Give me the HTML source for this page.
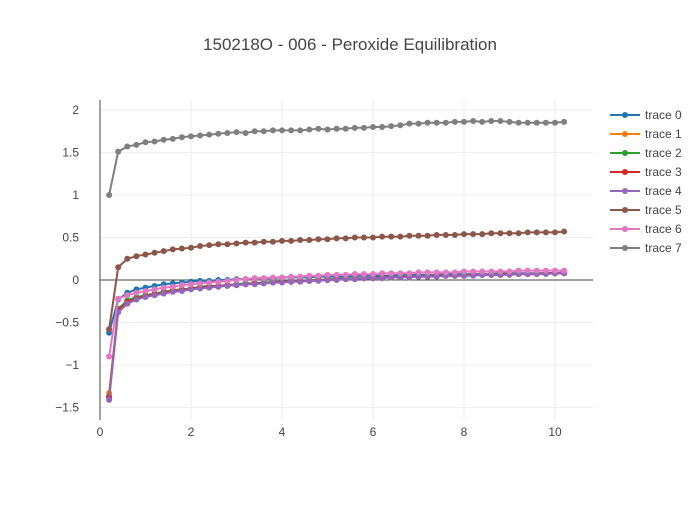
<!DOCTYPE html>
<html><head><meta charset="utf-8"><style>
body{margin:0;background:#fff;font-family:"Liberation Sans",sans-serif}
svg text{font-family:"Liberation Sans",sans-serif;fill:#444}
</style></head><body>
<svg id="chart" width="700" height="500" xmlns="http://www.w3.org/2000/svg">
<text x="350" y="50" text-anchor="middle" font-size="17">150218O - 006 - Peroxide Equilibration</text>
<g id="grid"></g><g id="axes"></g><g id="series"></g><g id="legend"></g>
</svg>
<script>
const traceNames=["trace 0","trace 1","trace 2","trace 3","trace 4","trace 5","trace 6","trace 7"];
const colors=["#1f77b4","#ff7f0e","#2ca02c","#d62728","#9467bd","#8c564b","#e377c2","#7f7f7f"];
const xTicks=[0,2,4,6,8,10];
const yTicks=[-1.5,-1,-0.5,0,0.5,1,1.5,2];
const yTickLabels=["−1.5","−1","−0.5","0","0.5","1","1.5","2"];
const xStart=0.2, xStep=0.2;
const t0=[-0.62,-0.23,-0.15,-0.11,-0.09,-0.07,-0.05,-0.04,-0.03,-0.02,-0.01,-0.01,0.00,0.00,0.01,0.01,0.02,0.02,0.02,0.03,0.03,0.03,0.03,0.04,0.04,0.04,0.04,0.05,0.05,0.05,0.05,0.05,0.06,0.06,0.06,0.06,0.06,0.07,0.07,0.07,0.07,0.07,0.07,0.08,0.08,0.08,0.08,0.08,0.08,0.08,0.09];
const t1=[-1.33,-0.35,-0.25,-0.21,-0.18,-0.16,-0.14,-0.12,-0.11,-0.10,-0.09,-0.08,-0.07,-0.06,-0.05,-0.04,-0.04,-0.03,-0.03,-0.02,-0.02,-0.01,-0.01,0.00,0.00,0.01,0.01,0.02,0.02,0.02,0.03,0.03,0.03,0.04,0.04,0.04,0.05,0.05,0.05,0.05,0.06,0.06,0.06,0.06,0.07,0.07,0.07,0.07,0.08,0.08,0.08];
const t2=[-1.37,-0.34,-0.24,-0.20,-0.18,-0.16,-0.14,-0.12,-0.11,-0.10,-0.08,-0.07,-0.07,-0.06,-0.05,-0.04,-0.04,-0.03,-0.02,-0.02,-0.01,-0.01,0.00,0.00,0.01,0.01,0.02,0.02,0.02,0.03,0.03,0.03,0.04,0.04,0.04,0.05,0.05,0.05,0.05,0.06,0.06,0.06,0.06,0.07,0.07,0.07,0.07,0.08,0.08,0.08,0.08];
const t3=[-1.38,-0.36,-0.26,-0.22,-0.19,-0.17,-0.15,-0.13,-0.12,-0.10,-0.09,-0.08,-0.07,-0.06,-0.06,-0.05,-0.04,-0.04,-0.03,-0.02,-0.02,-0.01,-0.01,0.00,0.00,0.01,0.01,0.01,0.02,0.02,0.03,0.03,0.03,0.04,0.04,0.04,0.05,0.05,0.05,0.05,0.06,0.06,0.06,0.06,0.07,0.07,0.07,0.07,0.08,0.08,0.08];
const t4=[-1.41,-0.38,-0.28,-0.23,-0.20,-0.18,-0.16,-0.14,-0.13,-0.11,-0.10,-0.09,-0.08,-0.07,-0.06,-0.05,-0.05,-0.04,-0.03,-0.03,-0.02,-0.02,-0.01,-0.01,0.00,0.00,0.01,0.01,0.02,0.02,0.02,0.03,0.03,0.03,0.04,0.04,0.04,0.05,0.05,0.05,0.05,0.06,0.06,0.06,0.06,0.07,0.07,0.07,0.07,0.08,0.08];
const t5=[-0.58,0.15,0.25,0.28,0.30,0.32,0.34,0.36,0.37,0.38,0.40,0.41,0.42,0.42,0.43,0.44,0.44,0.45,0.45,0.46,0.46,0.47,0.47,0.48,0.48,0.49,0.49,0.50,0.50,0.50,0.51,0.51,0.51,0.52,0.52,0.52,0.53,0.53,0.53,0.54,0.54,0.54,0.55,0.55,0.55,0.55,0.56,0.56,0.56,0.56,0.57];
const t6=[-0.90,-0.22,-0.18,-0.15,-0.13,-0.11,-0.09,-0.08,-0.06,-0.05,-0.04,-0.03,-0.02,-0.01,0.00,0.01,0.02,0.02,0.03,0.03,0.04,0.04,0.05,0.05,0.06,0.06,0.06,0.07,0.07,0.07,0.08,0.08,0.08,0.08,0.09,0.09,0.09,0.09,0.09,0.10,0.10,0.10,0.10,0.10,0.10,0.11,0.11,0.11,0.11,0.11,0.11];
const t7=[1.00,1.51,1.57,1.59,1.62,1.63,1.65,1.66,1.68,1.69,1.70,1.71,1.72,1.73,1.74,1.73,1.75,1.75,1.76,1.76,1.76,1.76,1.77,1.78,1.77,1.78,1.78,1.79,1.79,1.80,1.80,1.81,1.82,1.84,1.84,1.85,1.85,1.85,1.86,1.86,1.87,1.86,1.87,1.87,1.86,1.85,1.85,1.85,1.85,1.85,1.86];
const traces=[t0,t1,t2,t3,t4,t5,t6,t7];

const NS="http://www.w3.org/2000/svg";
const X0=100,X1=593,Y0=100,Y1=420;
function xs(v){return 100+v*45.5;}
function ys(v){return 280-v*85;}
function mk(tag,attrs,parent){const e=document.createElementNS(NS,tag);for(const k in attrs)e.setAttribute(k,attrs[k]);parent.appendChild(e);return e;}
const grid=document.getElementById('grid'),axes=document.getElementById('axes'),ser=document.getElementById('series'),leg=document.getElementById('legend');
xTicks.forEach(t=>{
  const l=mk('line',{x1:xs(t),x2:xs(t),y1:Y0,y2:Y1,stroke:'#eee','stroke-width':1},grid);
  
  
  const tx=mk('text',{x:xs(t),y:436,'text-anchor':'middle','font-size':12},axes);tx.textContent=t;
  
  
});
yTicks.forEach((t,i)=>{
  if(t!==0){const l=mk('line',{x1:X0,x2:X1,y1:ys(t),y2:ys(t),stroke:'#eee','stroke-width':1},grid);
  
  }
  const tx=mk('text',{x:79,y:ys(t)+4,'text-anchor':'end','font-size':12},axes);tx.textContent=yTickLabels[i];
  
  
});
const zl=mk('line',{x1:X0,x2:X1,y1:ys(0),y2:ys(0),stroke:'#444','stroke-width':1},axes);


const ya=mk('line',{x1:X0,x2:X0,y1:Y0,y2:Y1,stroke:'#444','stroke-width':1},axes);


traces.forEach((arr,ti)=>{
  const g=mk('g',{},ser);
  
  
  const pts=arr.map((v,i)=>xs(xStart+i*xStep).toFixed(1)+','+ys(v).toFixed(1)).join(' ');
  const pl=mk('polyline',{points:pts,fill:'none',stroke:colors[ti],'stroke-width':2},g);
  
  
  arr.forEach((v,i)=>{
    const c=mk('circle',{cx:xs(xStart+i*xStep),cy:ys(v),r:3,fill:colors[ti]},g);
    
    
  });
  const ly=115+ti*19;
  const lg=mk('g',{},leg);
  
  
  mk('line',{x1:610,x2:640,y1:ly,y2:ly,stroke:colors[ti],'stroke-width':2},lg);
  mk('circle',{cx:625,cy:ly,r:3,fill:colors[ti]},lg);
  const tx=mk('text',{x:645,y:ly+4,'font-size':12},lg);tx.textContent=traceNames[ti];
});
</script>
</body></html>
